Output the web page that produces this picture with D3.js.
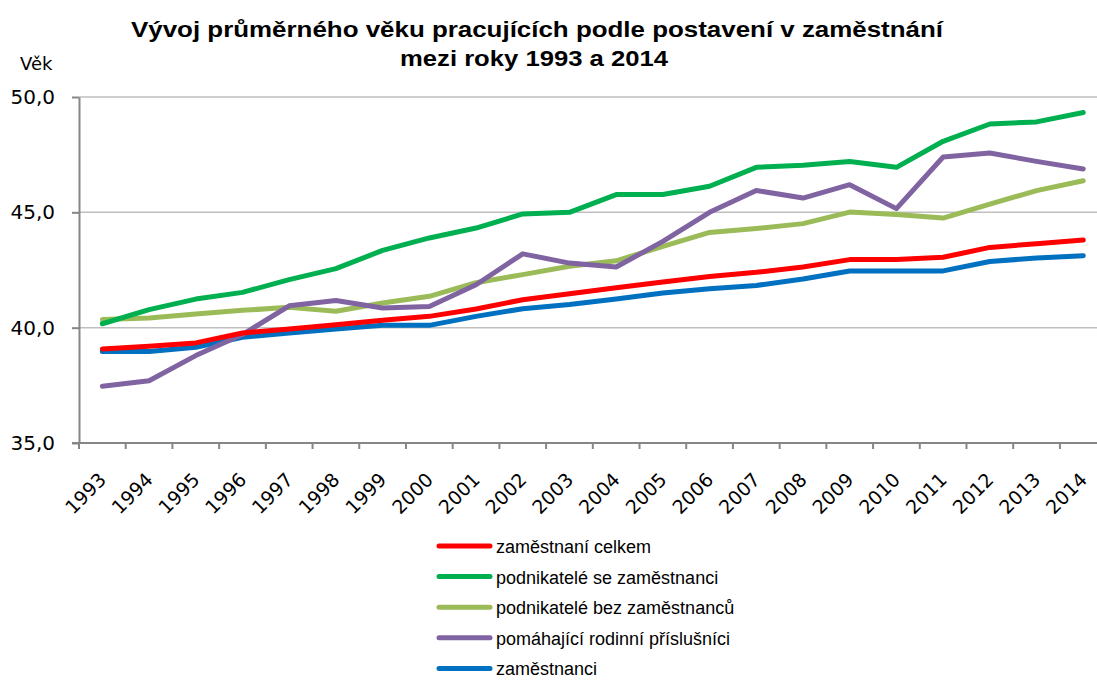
<!DOCTYPE html>
<html lang="cs">
<head>
<meta charset="UTF-8">
<title>Vývoj průměrného věku pracujících</title>
<script src="https://cdn.jsdelivr.net/npm/d3@7"></script>
<style>
    body { margin: 0; background: #fff; }
    svg { font-family: "Liberation Sans", Arial, sans-serif; }
    .grid line { stroke: #bfbfbf; stroke-width: 1.5; }
    .axis path, .axis line { stroke: #868686; stroke-width: 2; }
    .axis text { fill: #000; font-family: "DejaVu Sans", sans-serif; }
</style>
</head>
<body>
<svg></svg>
<script>
// data
var years = ["1993","1994","1995","1996","1997","1998","1999","2000","2001","2002","2003",
             "2004","2005","2006","2007","2008","2009","2010","2011","2012","2013","2014"];
var celkem      = [39.08,39.19,39.34,39.77,39.94,40.13,40.32,40.49,40.81,41.21,41.47,
                   41.73,41.98,42.22,42.40,42.63,42.95,42.95,43.05,43.48,43.64,43.80];
var seZam       = [40.17,40.78,41.24,41.53,42.08,42.56,43.35,43.89,44.32,44.93,45.00,
                   45.77,45.77,46.13,46.95,47.04,47.20,46.95,48.08,48.83,48.92,49.33];
var bezZam      = [40.35,40.42,40.59,40.75,40.88,40.71,41.07,41.36,41.95,42.30,42.66,
                   42.90,43.52,44.13,44.30,44.51,45.01,44.91,44.75,45.36,45.94,46.37];
var pomahajici  = [37.46,37.70,38.79,39.70,40.95,41.18,40.85,40.92,41.86,43.20,42.80,
                   42.63,43.74,45.00,45.95,45.62,46.20,45.16,47.40,47.57,47.21,46.88];
var zamestnanci = [38.97,38.97,39.15,39.58,39.77,39.94,40.10,40.10,40.49,40.82,41.00,
                   41.24,41.50,41.69,41.83,42.11,42.46,42.46,42.46,42.87,43.02,43.12];
var yTicks = [35, 40, 45, 50];

var seriesNames = ["zaměstnaní celkem", "podnikatelé se zaměstnanci", "podnikatelé bez zaměstnanců",
                   "pomáhající rodinní příslušníci", "zaměstnanci"];
var seriesValues = [celkem, seZam, bezZam, pomahajici, zamestnanci];
var colours = ["#ff0000", "#00b050", "#9bbb59", "#8064a2", "#0070c0"];
// drawing order: blue under red, as in the picture
var drawOrder = [4, 2, 3, 1, 0];

var svgWidth = 1097, svgHeight = 680;
var plotLeft = 79, plotTop = 97, plotBottom = 443;
var step = 46.71;

var svg = d3.select("svg").attr("width", svgWidth).attr("height", svgHeight);

var xs = d3.scaleBand().domain(years).range([plotLeft, plotLeft + step * years.length]);
var ys = d3.scaleLinear().domain([35, 50]).range([plotBottom, plotTop]);

// gridlines
svg.append("g").attr("class", "grid")
    .selectAll("line").data(yTicks.slice(1)).enter().append("line")
    .attr("x1", plotLeft).attr("x2", svgWidth)
    .attr("y1", function(d) { return ys(d); })
    .attr("y2", function(d) { return ys(d); });

// y axis
var yAxis = svg.append("g").attr("class", "axis")
    .attr("transform", "translate(" + plotLeft + ",0)")
    .call(d3.axisLeft(ys).tickValues(yTicks).tickSize(7).tickSizeOuter(0)
        .tickFormat(function(d) { return d3.format(".1f")(d).replace(".", ","); }));
yAxis.selectAll("text").style("font-size", "20px").attr("x", -24);

// x axis, ticks on band boundaries
var xAxis = svg.append("g").attr("class", "axis")
    .attr("transform", "translate(0," + plotBottom + ")");
xAxis.append("line").attr("x1", plotLeft - 7).attr("x2", svgWidth).attr("y1", 0).attr("y2", 0);
xAxis.selectAll(".tk").data(years).enter().append("line").attr("class", "tk")
    .attr("x1", function(d) { return xs(d); }).attr("x2", function(d) { return xs(d); })
    .attr("y1", 0).attr("y2", 6);
xAxis.selectAll(".lbl").data(years).enter().append("text").attr("class", "lbl")
    .attr("text-anchor", "end")
    .style("font-size", "19px")
    .attr("transform", function(d) {
        return "translate(" + (xs(d) + xs.bandwidth() / 2 + 5) + ",38) rotate(-45)";
    })
    .text(function(d) { return d; });

// lines
var line = d3.line()
    .x(function(d, i) { return xs(years[i]) + xs.bandwidth() / 2; })
    .y(function(d) { return ys(d); });

svg.append("g").selectAll("path").data(drawOrder).enter().append("path")
    .attr("d", function(k) { return line(seriesValues[k]); })
    .attr("fill", "none")
    .attr("stroke", function(k) { return colours[k]; })
    .attr("stroke-width", 5)
    .attr("stroke-linejoin", "round")
    .attr("stroke-linecap", "round");

// title
var title = svg.append("text").attr("text-anchor", "middle")
    .style("font-weight", "bold").style("font-size", "22px");
title.append("tspan").attr("x", 537).attr("y", 37)
    .attr("textLength", 812).attr("lengthAdjust", "spacingAndGlyphs")
    .text("Vývoj průměrného  věku  pracujících  podle postavení  v zaměstnání");
title.append("tspan").attr("x", 534).attr("y", 66)
    .attr("textLength", 268).attr("lengthAdjust", "spacingAndGlyphs")
    .text("mezi roky 1993  a 2014");

svg.append("text").attr("x", 20).attr("y", 70)
    .style("font-family", "'DejaVu Sans', sans-serif")
    .style("font-size", "18px").text("Věk");

// legend
var legend = svg.append("g").selectAll("g").data(seriesNames).enter().append("g")
    .attr("transform", function(d, i) { return "translate(437," + (546 + i * 30.6) + ")"; });
legend.append("line").attr("x1", 2).attr("x2", 53)
    .attr("stroke", function(d, i) { return colours[i]; })
    .attr("stroke-width", 5).attr("stroke-linecap", "round");
legend.append("text").attr("x", 59).attr("y", 7)
    .style("font-size", "18px").text(function(d) { return d; });
</script>
</body>
</html>
